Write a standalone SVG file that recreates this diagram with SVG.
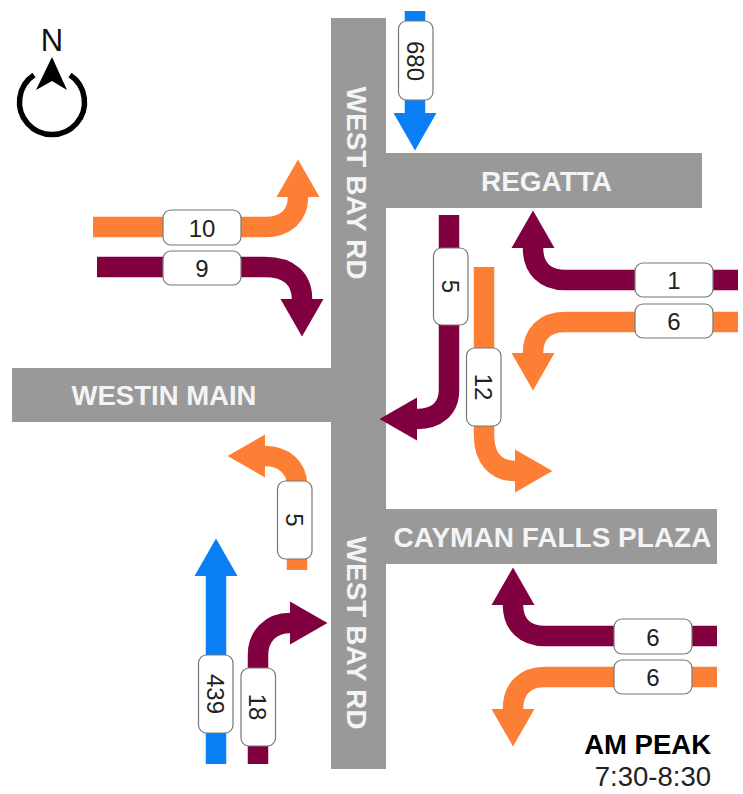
<svg xmlns="http://www.w3.org/2000/svg" width="743" height="794" viewBox="0 0 743 794">
  <style>
    text { font-family: "Liberation Sans", Arial, sans-serif; }
    .road { fill: #999999; }
    .rl { fill: #f4f4f4; font-weight: bold; font-size: 28px; text-anchor: middle; }
    .arrow { fill: none; stroke-width: 20.5; }
    .o { stroke: #fd7f36; marker-end: url(#hO); }
    .m { stroke: #800040; marker-end: url(#hM); }
    .b { stroke: #0a7ff5; marker-end: url(#hB); }
    .box { fill: #ffffff; stroke: #777777; stroke-width: 1.2; }
    .num { fill: #222222; font-size: 24px; text-anchor: middle; }
  </style>
  <defs>
    <marker id="hO" markerUnits="userSpaceOnUse" markerWidth="40" markerHeight="44" viewBox="0 0 40 44" refX="0" refY="22" orient="auto"><path d="M0 0.5L37.5 22L0 43.5Z" fill="#fd7f36"/></marker>
    <marker id="hM" markerUnits="userSpaceOnUse" markerWidth="40" markerHeight="44" viewBox="0 0 40 44" refX="0" refY="22" orient="auto"><path d="M0 0.5L37.5 22L0 43.5Z" fill="#800040"/></marker>
    <marker id="hB" markerUnits="userSpaceOnUse" markerWidth="40" markerHeight="44" viewBox="0 0 40 44" refX="0" refY="22" orient="auto"><path d="M0 0.5L37.5 22L0 43.5Z" fill="#0a7ff5"/></marker>
  </defs>

  <g id="roads">
    <path class="road" d="M331 18H386V153H702V208H386V509H717V564H386V769H331V422H12V368H331Z"/>
    <text class="rl" x="546.500" y="191">REGATTA</text>
    <text class="rl" x="164" y="405" font-size="27.500" style="font-size:27.500px">WESTIN MAIN</text>
    <text class="rl" x="552.500" y="547">CAYMAN FALLS PLAZA</text>
    <text class="rl" transform="translate(347 183) rotate(90)">WEST BAY RD</text>
    <text class="rl" transform="translate(347 633) rotate(90)">WEST BAY RD</text>
  </g>

  <g id="connectors">
    <path class="arrow o" d="M93 227H265C286 227 298 215 298 197"/>
    <path class="arrow m" d="M97 267H265C289 267 302 279 302 299"/>
    <path class="arrow b" d="M415 11V113"/>
    <path class="arrow m" d="M449 215V390C449 409 436 419 417 419"/>
    <path class="arrow o" d="M484 267V435C484 458 496 471 515 471"/>
    <path class="arrow m" d="M738 280H565C545 280 533 268 533 248"/>
    <path class="arrow o" d="M738 322H565C545 322 533 334 533 353"/>
    <path class="arrow o" d="M297 570V485C297 468 284 456 265 456"/>
    <path class="arrow b" d="M216 764V576"/>
    <path class="arrow m" d="M258 764V655C258 636 271 623 290 623"/>
    <path class="arrow m" d="M717 636H545C525 636 513 624 513 605"/>
    <path class="arrow o" d="M717 677H545C525 677 513 689 513 709"/>
  </g>

  <g id="count-10"><rect class="box" x="163" y="210" width="78" height="35" rx="8"/><text class="num" x="202" y="237">10</text></g>
  <g id="count-9"><rect class="box" x="163" y="251" width="78" height="34" rx="8"/><text class="num" x="202" y="277">9</text></g>
  <g id="count-680"><rect class="box" x="398.500" y="21" width="34.500" height="79" rx="8"/><text class="num" transform="translate(406.500 61) rotate(90)">680</text></g>
  <g id="count-5-south"><rect class="box" x="433.500" y="248" width="34.500" height="77" rx="8"/><text class="num" transform="translate(442 286.500) rotate(90)">5</text></g>
  <g id="count-12"><rect class="box" x="466.500" y="348" width="34.500" height="78" rx="8"/><text class="num" transform="translate(475 387) rotate(90)">12</text></g>
  <g id="count-1"><rect class="box" x="635" y="263" width="78" height="34" rx="8"/><text class="num" x="674" y="288.500">1</text></g>
  <g id="count-6-regatta"><rect class="box" x="635" y="304" width="78" height="34" rx="8"/><text class="num" x="674" y="330">6</text></g>
  <g id="count-5-north"><rect class="box" x="277.500" y="481" width="34.500" height="78" rx="8"/><text class="num" transform="translate(285.500 520) rotate(90)">5</text></g>
  <g id="count-439"><rect class="box" x="198.500" y="655" width="34.500" height="78" rx="8"/><text class="num" transform="translate(206.500 694) rotate(90)">439</text></g>
  <g id="count-18"><rect class="box" x="241" y="668" width="34.500" height="78" rx="8"/><text class="num" transform="translate(249 707) rotate(90)">18</text></g>
  <g id="count-6-cayman-a"><rect class="box" x="614" y="619" width="78" height="35" rx="8"/><text class="num" x="653" y="645.500">6</text></g>
  <g id="count-6-cayman-b"><rect class="box" x="614" y="660" width="78" height="34" rx="8"/><text class="num" x="653" y="686">6</text></g>

  <g id="compass">
    <text x="52" y="51" font-size="31" text-anchor="middle" fill="#111111">N</text>
    <path d="M34 75A32.500 32.500 0 1 0 70 75" fill="none" stroke="#000000" stroke-width="5.500"/>
    <path d="M52 57L67 90L52 81L36 90Z" fill="#000000"/>
  </g>

  <g id="peak">
    <text x="711" y="754" font-size="27.500" font-weight="bold" text-anchor="end" fill="#000000">AM PEAK</text>
    <text x="711" y="786" font-size="27.500" text-anchor="end" fill="#222222">7:30-8:30</text>
  </g>
</svg>
